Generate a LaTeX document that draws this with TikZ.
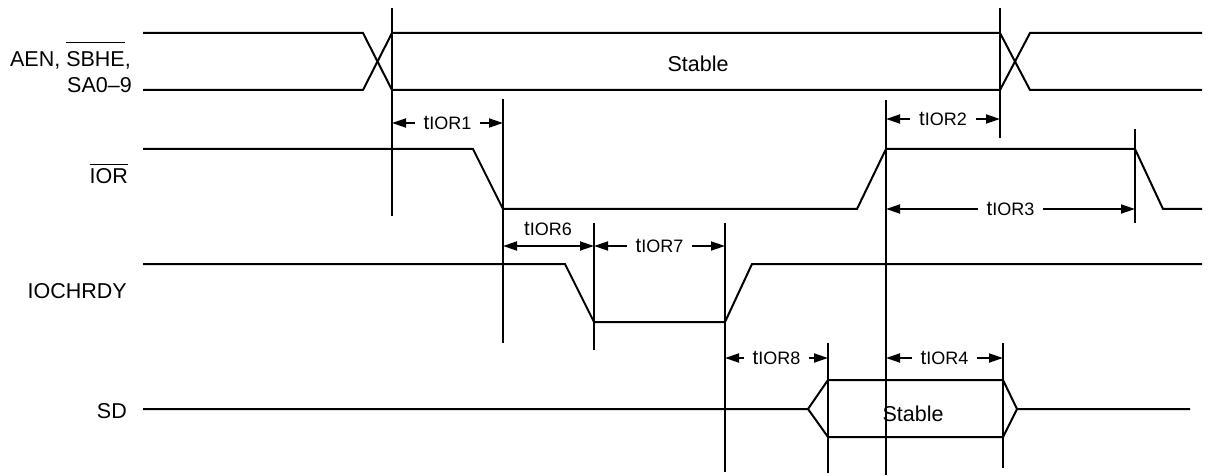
\documentclass[tikz,border=0pt]{standalone}
\usepackage{fontspec}
\setmainfont{Liberation Sans}
\usetikzlibrary{arrows.meta}
\newcommand\tsub[1]{{\fontsize{20.5}{22}\selectfont t}{\fontsize{18}{18}\selectfont #1}}
\newcommand\barred[2]{$\overline{\mbox{\rule{0pt}{#1}#2}}$}
\tikzset{
  sig/.style={line width=2pt, line join=miter},
  refline/.style={line width=2pt},
  dim/.style={line width=1.8pt, {Triangle[length=14pt,width=9pt]}-{Triangle[length=14pt,width=9pt]}},
  lbl/.style={fill=white, inner xsep=9pt, inner ysep=2pt},
  txt/.style={inner sep=0pt, font=\fontsize{21.5}{24}\selectfont}
}
\begin{document}
\begin{tikzpicture}[x=1pt,y=-1pt]
\useasboundingbox (0,0) rectangle (1211,476);
% reference vertical lines
\coordinate (v1t) at (392,8);   \coordinate (v1b) at (392,216);
\coordinate (v2t) at (503,99);  \coordinate (v2b) at (503,343);
\coordinate (v3t) at (1000,8);  \coordinate (v3b) at (1000,138);
\coordinate (v4t) at (886,100); \coordinate (v4b) at (886,475);
\coordinate (v5t) at (1135,129);\coordinate (v5b) at (1135,223);
\coordinate (v6t) at (594,223); \coordinate (v6b) at (594,350);
\coordinate (v7t) at (725,223); \coordinate (v7b) at (725,472);
\coordinate (v8t) at (828,343); \coordinate (v8b) at (828,473);
\coordinate (v9t) at (1003,343);\coordinate (v9b) at (1003,468);
\foreach \n in {1,...,9} \draw[refline] (v\n t) -- (v\n b);

% address bus
\draw[sig] (143,33) -- (363,33) -- (392,90) -- (1000,90) -- (1030,33) -- (1202,33);
\draw[sig] (143,90) -- (363,90) -- (392,33) -- (1000,33) -- (1030,90) -- (1202,90);
\node[txt,anchor=base] (stab1) at (698,72) {Stable};
% IOR
\draw[sig] (143,149) -- (473,149) -- (503,209) -- (857,209) -- (886,149) -- (1135,149) -- (1163,209) -- (1202,209);
% IOCHRDY
\draw[sig] (143,264) -- (565,264) -- (594,322) -- (725,322) -- (752,264) -- (1202,264);
% SD
\draw[sig] (143,409) -- (808,409) -- (828,380) -- (1003,380) -- (1017,409) -- (1190,409);
\draw[sig] (808,409) -- (828,437) -- (1003,437) -- (1017,409);
\node[txt,anchor=base] (stab2) at (913,421) {Stable};

% signal labels
\node[txt,anchor=base east] (l1) at (131,67) {AEN, \barred{23.5pt}{SBHE},};
\node[txt,anchor=base east] (l2) at (132,93) {SA0–9};
\node[txt,anchor=base east] (l3) at (128,183) {\barred{17pt}{IOR}};
\node[txt,anchor=base east] (l4) at (127,298) {IOCHRDY};
\node[txt,anchor=base east] (l5) at (127,418) {SD};

% timing arrows
\coordinate (a1l) at (392,123); \coordinate (a1r) at (503,123);
\draw[dim] (a1l) -- node[lbl] (t1) {\tsub{IOR1}} (a1r);
\coordinate (a2l) at (886,119); \coordinate (a2r) at (1000,119);
\draw[dim] (a2l) -- node[lbl] (t2) {\tsub{IOR2}} (a2r);
\coordinate (a3l) at (886,209); \coordinate (a3r) at (1135,209);
\draw[dim] (a3l) -- node[lbl] (t3) {\tsub{IOR3}} (a3r);
\coordinate (a6l) at (503,246); \coordinate (a6r) at (594,246);
\draw[dim] (a6l) -- (a6r);
\node[inner sep=0pt,anchor=base] (t6) at (548,236) {\tsub{IOR6}};
\coordinate (a7l) at (594,246); \coordinate (a7r) at (725,246);
\draw[dim] (a7l) -- node[lbl] (t7) {\tsub{IOR7}} (a7r);
\coordinate (a8l) at (725,358); \coordinate (a8r) at (828,358);
\draw[dim] (a8l) -- node[lbl] (t8) {\tsub{IOR8}} (a8r);
\coordinate (a4l) at (886,358); \coordinate (a4r) at (1003,358);
\draw[dim] (a4l) -- node[lbl] (t4) {\tsub{IOR4}} (a4r);
\end{tikzpicture}
\end{document}
